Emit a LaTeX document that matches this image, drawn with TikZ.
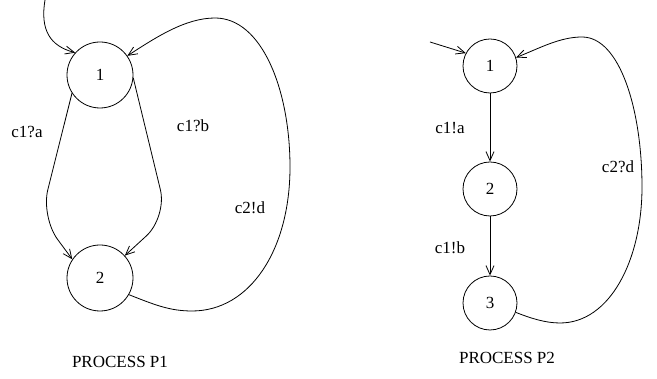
\documentclass[tikz,border=0pt]{standalone}
\usepackage{fontspec}
\setmainfont{Liberation Serif}
\usetikzlibrary{arrows.meta}
\begin{document}
\begin{tikzpicture}[x=1pt,y=1pt,
  state/.style={draw,circle,line width=0.8pt,inner sep=0pt,minimum size=#1},
  state/.default=66pt,
  edge/.style={line width=0.8pt,-{Straight Barb[length=9pt,width=8pt,line width=0.8pt]}},
  lbl/.style={font=\fontsize{17}{20}\selectfont},
  every node/.append style={font=\fontsize{17}{20}\selectfont}]
\useasboundingbox (0,0) rectangle (657,379);
% ---------- Process P1
\node[state] (a1) at (100,304) {1};
\node[state] (a2) at (100,101) {2};
\coordinate (a0) at (45,379);
\draw[edge] (a0) .. controls (40,349) and (50,333) .. (a1.138);
\draw[edge,rounded corners=28pt] (a1.213) -- (41,162) -- (a2.146);
\draw[edge,rounded corners=28pt] (a1.-5) -- (167,162) -- (a2.42);
\draw[edge] (a2.-30) .. controls (155,74) and (170,68) .. (192,68)
  .. controls (250,68) and (290,129) .. (290,212)
  .. controls (290,289) and (262,361) .. (215,361)
  .. controls (185,361) and (155,341) .. (a1.35);
\node[lbl] (la) at (27,247) {c1?a};
\node[lbl] (lb) at (193,253) {c1?b};
\node[lbl] (ld) at (250,171) {c2!d};
\node[lbl] (p1) at (120,17) {PROCESS P1};
% ---------- Process P2
\node[state=54pt] (b1) at (490,313) {1};
\node[state=54pt] (b2) at (490,190) {2};
\node[state=54pt] (b3) at (490,76) {3};
\coordinate (b0) at (430,337);
\draw[edge] (b0) -- (b1.152);
\draw[edge] (b1) -- (b2);
\draw[edge] (b2) -- (b3);
\draw[edge] (b3.-20) .. controls (530,61) and (545,56) .. (560,56)
  .. controls (610,56) and (642,119) .. (642,192)
  .. controls (642,269) and (620,342) .. (582,342)
  .. controls (560,342) and (540,331) .. (b1.18);
\node[lbl] (lc) at (450,251) {c1!a};
\node[lbl] (le) at (450,131) {c1!b};
\node[lbl] (lf) at (618,212) {c2?d};
\node[lbl] (p2) at (507,21) {PROCESS P2};
\end{tikzpicture}
\end{document}
